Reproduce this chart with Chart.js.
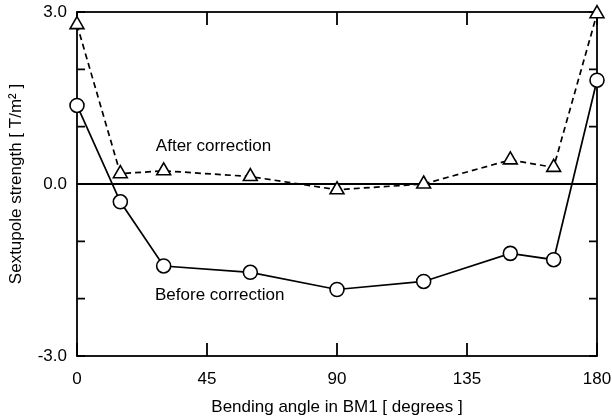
<!DOCTYPE html>
<html>
<head>
<meta charset="utf-8">
<script src="https://cdn.jsdelivr.net/npm/chart.js@4/dist/chart.umd.min.js"></script>
<style>
  html, body { margin: 0; padding: 0; background: #fff; }
  #box { width: 612px; height: 420px; }
</style>
</head>
<body>
<div id="box"><canvas id="grafico"></canvas></div>
<script>
// dati
var angoli = [0, 15, 30, 60, 90, 120, 150, 165, 180];
var prima = [1.37, -0.31, -1.43, -1.54, -1.84, -1.70, -1.21, -1.32, 1.81];
var dopo = [2.78, 0.18, 0.23, 0.13, -0.10, 0.00, 0.42, 0.29, 2.97];
var tickX = [0, 45, 90, 135, 180];
var tickY = [-3, -2, -1, 0, 1, 2, 3];
var etichetteY = { '-3': '-3.0', '0': '0.0', '3': '3.0' };
var testi = [
  { testo: 'After correction', x: 27.3, y: 0.65 },
  { testo: 'Before correction', x: 27.0, y: -1.94 }
];

function punti(xs, ys) {
  var out = [];
  for (var i = 0; i < xs.length; i++) {
    out.push({ x: xs[i], y: ys[i] });
  }
  return out;
}

var font = 'Liberation Sans, Arial, sans-serif';

// cornice, tacche interne, linea dello zero e scritte
var cornice = {
  id: 'cornice',
  beforeDatasetsDraw: function (chart) {
    var c = chart.ctx;
    var a = chart.chartArea;
    var sx = chart.scales.x;
    var sy = chart.scales.y;
    c.save();
    c.strokeStyle = '#000';
    c.lineWidth = 1.8;
    c.strokeRect(a.left, a.top, a.right - a.left, a.bottom - a.top);
    // linea zero
    var y0 = sy.getPixelForValue(0);
    c.beginPath();
    c.moveTo(a.left, y0);
    c.lineTo(a.right, y0);
    c.stroke();
    // tacche x
    for (var i = 0; i < tickX.length; i++) {
      var px = sx.getPixelForValue(tickX[i]);
      c.beginPath();
      c.moveTo(px, a.bottom);
      c.lineTo(px, a.bottom - 13);
      c.moveTo(px, a.top);
      c.lineTo(px, a.top + 13);
      c.stroke();
    }
    // tacche y
    for (var j = 0; j < tickY.length; j++) {
      var py = sy.getPixelForValue(tickY[j]);
      c.beginPath();
      c.moveTo(a.left, py);
      c.lineTo(a.left + 8, py);
      c.moveTo(a.right, py);
      c.lineTo(a.right - 8, py);
      c.stroke();
    }
    // scritte
    c.fillStyle = '#000';
    c.font = '17px ' + font;
    c.textAlign = 'left';
    c.textBaseline = 'middle';
    for (var k = 0; k < testi.length; k++) {
      c.fillText(testi[k].testo, sx.getPixelForValue(testi[k].x), sy.getPixelForValue(testi[k].y));
    }
    c.restore();
  }
};

var ctx = document.getElementById('grafico');
var chart = new Chart(ctx, {
  type: 'line',
  data: {
    datasets: [{
      label: 'After correction',
      data: punti(angoli, dopo),
      borderColor: '#000',
      borderWidth: 1.7,
      borderDash: [6, 4],
      pointStyle: 'triangle',
      pointRadius: 8,
      pointBorderWidth: 1.6,
      pointBackgroundColor: '#fff',
      pointBorderColor: '#000',
      clip: false
    }, {
      label: 'Before correction',
      data: punti(angoli, prima),
      borderColor: '#000',
      borderWidth: 1.7,
      pointStyle: 'circle',
      pointRadius: 7,
      pointBorderWidth: 1.6,
      pointBackgroundColor: '#fff',
      pointBorderColor: '#000',
      clip: false
    }]
  },
  options: {
    responsive: true,
    maintainAspectRatio: false,
    animation: false,
    layout: { padding: { top: 12, right: 15, left: 0, bottom: 0 } },
    plugins: {
      legend: { display: false },
      tooltip: { enabled: false }
    },
    scales: {
      x: {
        type: 'linear',
        min: 0,
        max: 180,
        afterBuildTicks: function (axis) {
          axis.ticks = tickX.map(function (v) { return { value: v }; });
        },
        afterFit: function (axis) {
          axis.height = 64;
          axis.paddingLeft = 0;
          axis.paddingRight = 0;
        },
        grid: { display: false, drawTicks: false },
        border: { display: false },
        ticks: {
          color: '#000',
          font: { family: font, size: 17 },
          padding: 13,
          maxRotation: 0
        },
        title: {
          display: true,
          text: 'Bending angle in BM1 [ degrees ]',
          color: '#000',
          font: { family: font, size: 17 },
          padding: { top: 4, bottom: 2 }
        }
      },
      y: {
        type: 'linear',
        min: -3,
        max: 3,
        afterBuildTicks: function (axis) {
          axis.ticks = tickY.map(function (v) { return { value: v }; });
        },
        afterFit: function (axis) {
          axis.width = 77;
          axis.paddingTop = 0;
          axis.paddingBottom = 0;
        },
        grid: { display: false, drawTicks: false },
        border: { display: false },
        ticks: {
          color: '#000',
          font: { family: font, size: 17 },
          padding: 10,
          callback: function (v) {
            return etichetteY[String(v)] !== undefined ? etichetteY[String(v)] : '';
          }
        },
        title: {
          display: true,
          text: 'Sextupole strength [ T/m² ]',
          color: '#000',
          font: { family: font, size: 17 },
          padding: { top: 6, bottom: 2 }
        }
      }
    }
  },
  plugins: [cornice]
});
</script>
</body>
</html>
